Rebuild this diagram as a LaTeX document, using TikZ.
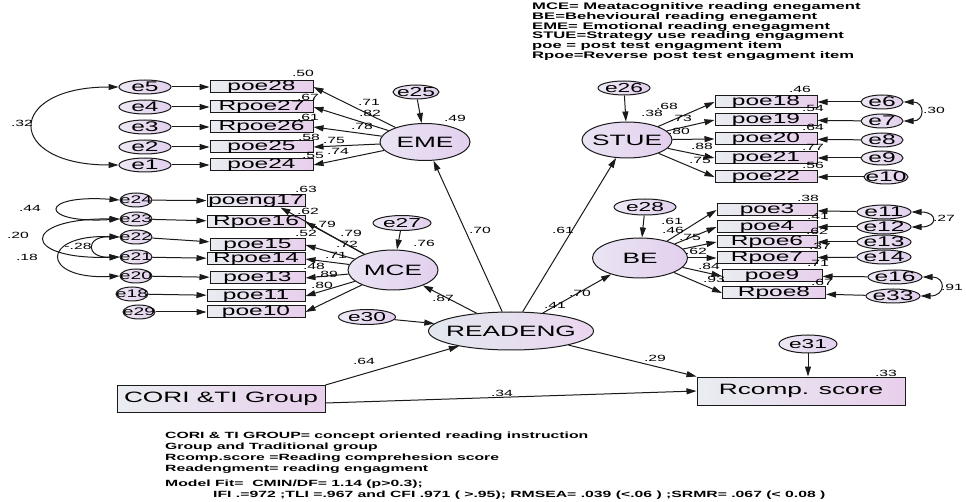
\documentclass[tikz,border=0pt]{standalone}
\usepackage{fontspec}
\setmainfont{Liberation Sans}[FakeStretch=1.75]
\usetikzlibrary{arrows.meta,shapes.geometric}
\definecolor{boxL}{HTML}{E9EDF1}
\definecolor{boxR}{HTML}{E8CFEC}
\definecolor{errL}{HTML}{EEE8F4}
\definecolor{errR}{HTML}{E2D0EE}
\definecolor{latL}{HTML}{EAE4F3}
\definecolor{latR}{HTML}{E2D0EE}
\definecolor{rdL}{HTML}{E2E8EE}
\definecolor{rdR}{HTML}{EAD6EF}
\definecolor{lineC}{HTML}{1A1A1A}
\newcommand\cz[1]{\makebox[0pt][c]{#1}}
\newcommand\numlab[3]{\node[num] (#1) at (#2) {#3};}
\begin{document}
\begin{tikzpicture}[x=1pt,y=-1pt,
 obs/.style={rectangle, draw=lineC, line width=1pt, left color=boxL, right color=boxR,
   minimum width=103pt, minimum height=12pt, inner sep=0pt, text height=9pt, text depth=2.5pt,
   font=\fontsize{14}{14}\selectfont},
 err/.style={ellipse, draw=lineC, line width=1pt, left color=errL, right color=errR,
   minimum width=52pt, minimum height=14pt, inner sep=0pt, text height=9.5pt, text depth=0pt,
   font=\fontsize{14}{14}\selectfont},
 errs/.style={err, minimum width=32pt, text height=7.8pt, font=\fontsize{11}{11}\selectfont},
 errb/.style={err, text height=9pt, font=\fontsize{13}{13}\selectfont},
 lat/.style={ellipse, draw=lineC, line width=1pt, left color=latL, right color=latR,
   minimum width=90pt, minimum height=37pt, inner sep=0pt, text height=10.7pt, text depth=0pt,
   font=\fontsize{15}{15}\selectfont},
 big/.style={rectangle, draw=lineC, line width=1pt, left color=boxL, right color=boxR,
   minimum width=208pt, minimum height=27pt, inner sep=0pt, text height=10.7pt, text depth=3pt,
   font=\fontsize{15}{15}\selectfont},
 num/.style={inner sep=0pt, font=\fontsize{9}{9}\selectfont},
 ar/.style={draw=lineC, line width=1pt, -{Triangle[length=10pt,width=6pt]}},
 cov/.style={draw=lineC, line width=1pt, {Triangle[length=10pt,width=6pt]}-{Triangle[length=10pt,width=6pt]}},
 txt/.style={anchor=north west, align=left, inner sep=0pt}
]
\useasboundingbox (0,0) rectangle (966,502);
\fill[white] (0,0) rectangle (966,502);

% legend
\node[txt, font=\fontsize{9.5}{9.8}\selectfont\bfseries] (legend) at (532,2.5)
 {MCE= Meatacognitive reading enegament\\BE=Behevioural reading enegament\\EME= Emotional reading enegagment\\STUE=Strategy use reading engagment\\poe = post test engagment item\\Rpoe=Reverse post test engagment item};

% ---------- EME cluster
\node[err] (e5) at (145,87) {\cz{e5}};
\node[err] (e4) at (145,107) {\cz{e4}};
\node[err] (e3) at (145,127) {\cz{e3}};
\node[err] (e2) at (145,147) {\cz{e2}};
\node[err] (e1) at (145,165) {\cz{e1}};
\node[obs] (poe28) at (261.5,87) {\cz{poe28}};
\node[obs] (Rpoe27) at (261.5,107) {\cz{Rpoe27}};
\node[obs] (Rpoe26) at (261.5,127) {\cz{Rpoe26}};
\node[obs] (poe25) at (261.5,147) {\cz{poe25}};
\node[obs] (poe24) at (261.5,165) {\cz{poe24}};
\node[lat] (EME) at (425,142) {\cz{EME}};
\node[errb, minimum width=46pt] (e25) at (416,92) {\cz{e25}};
\foreach \e/\b in {e5/poe28,e4/Rpoe27,e3/Rpoe26,e2/poe25,e1/poe24} \draw[ar] (\e) -- (\b);
\foreach \b in {poe28,Rpoe27,Rpoe26,poe25,poe24} \draw[ar] (EME) -- (\b.east);
\draw[ar] (e25) -- (EME);
\draw[cov] (e5.west) .. controls (5,87) and (5,165) .. (e1.west);
\numlab{a1}{22,123}{.32}
\numlab{a2}{303,73}{.50}
\numlab{a3}{308,97}{.67}
\numlab{a4}{308,117}{.61}
\numlab{a5}{309,137}{.58}
\numlab{a6}{313,155}{.55}
\numlab{a7}{369,102}{.71}
\numlab{a8}{370,113}{.82}
\numlab{a9}{362,126}{.78}
\numlab{a10}{334,140}{.75}
\numlab{a11}{338,151}{.74}
\numlab{a12}{455,118}{.49}

% ---------- MCE cluster
\node[errs] (e24) at (136,200) {\cz{e24}};
\node[errs] (e23) at (136,219) {\cz{e23}};
\node[errs] (e22) at (136,237) {\cz{e22}};
\node[errs] (e21) at (136,257) {\cz{e21}};
\node[errs] (e20) at (136,276) {\cz{e20}};
\node[errs] (e18) at (132,294) {\cz{e18}};
\node[errs] (e29) at (139,312) {\cz{e29}};
\node[obs, minimum width=98pt] (poeng17) at (256,201) {\cz{poeng17}};
\node[obs, minimum width=98pt] (Rpoe16) at (256,222) {\cz{Rpoe16}};
\node[obs, minimum width=95pt] (poe15) at (257.5,245) {\cz{poe15}};
\node[obs, minimum width=98pt] (Rpoe14) at (256,259) {\cz{Rpoe14}};
\node[obs, minimum width=95pt] (poe13) at (257.5,278) {\cz{poe13}};
\node[obs, minimum width=98pt] (poe11) at (256,296) {\cz{poe11}};
\node[obs, minimum width=98pt] (poe10) at (256,312) {\cz{poe10}};
\node[lat, minimum height=40pt] (MCE) at (393,270) {\cz{MCE}};
\node[errb, minimum width=58pt, minimum height=15pt] (e27) at (402,223) {\cz{e27}};
\foreach \e/\b in {e24/poeng17,e23/Rpoe16,e22/poe15,e21/Rpoe14,e20/poe13,e18/poe11,e29/poe10} \draw[ar] (\e) -- (\b);
\draw[ar] (MCE) -- ([xshift=-25pt]poeng17.south east);
\foreach \b in {Rpoe16,poe15,Rpoe14,poe13,poe11,poe10} \draw[ar] (MCE) -- (\b.east);
\draw[ar] (e27) -- (MCE);
\draw[cov] (e24.west) .. controls (38,194) and (38,224) .. (e23.west);
\draw[cov] (e23.west) .. controls (20,218) and (20,260) .. (e21.west);
\draw[cov] (e22.west) .. controls (40,234) and (40,280) .. (e20.west);
\draw[cov] (e22.west) .. controls (85,236) and (85,258) .. (e21.west);
\numlab{b1}{30,208}{.44}
\numlab{b2}{18,235}{.20}
\numlab{b3}{78,246}{-.28}
\numlab{b4}{27,257}{.18}
\numlab{b5}{306,189}{.63}
\numlab{b6}{308,211.5}{.62}
\numlab{b7}{325,224}{.79}
\numlab{b8}{306,233}{.52}
\numlab{b9}{351,233}{.79}
\numlab{b10}{347,244}{.72}
\numlab{b11}{336,255}{.71}
\numlab{b12}{314,266}{.48}
\numlab{b13}{327,274}{.89}
\numlab{b14}{322,285}{.80}
\numlab{b15}{424,243}{.76}
\numlab{b16}{443,298}{.87}

% ---------- STUE cluster
\node[lat, minimum height=36pt] (STUE) at (627,140) {\cz{STUE}};
\node[errb, minimum width=52pt] (e26) at (624,88) {\cz{e26}};
\node[obs, minimum width=102pt] (poe18) at (766,102) {\cz{poe18}};
\node[obs, minimum width=102pt] (poe19) at (766,120) {\cz{poe19}};
\node[obs, minimum width=102pt] (poe20) at (766,139) {\cz{poe20}};
\node[obs, minimum width=102pt] (poe21) at (766,158) {\cz{poe21}};
\node[obs, minimum width=102pt] (poe22) at (766,177) {\cz{poe22}};
\node[err, minimum width=42pt] (e6) at (882,102) {\cz{e6}};
\node[err, minimum width=42pt] (e7) at (882,121) {\cz{e7}};
\node[err, minimum width=42pt] (e8) at (882,140) {\cz{e8}};
\node[err, minimum width=42pt] (e9) at (882,158) {\cz{e9}};
\node[err, minimum width=44pt] (e10) at (886,177) {\cz{e10}};
\foreach \e/\b in {e6/poe18,e7/poe19,e8/poe20,e9/poe21,e10/poe22} \draw[ar] (\e) -- (\b);
\foreach \b in {poe18,poe19,poe20,poe21,poe22} \draw[ar] (STUE) -- (\b.west);
\draw[ar] (e26) -- (STUE);
\draw[cov] (e6.east) .. controls (925,102) and (925,121) .. (e7.east);
\numlab{c1}{800,89}{.46}
\numlab{c2}{813,108}{.54}
\numlab{c3}{813,127}{.64}
\numlab{c4}{813,147}{.77}
\numlab{c5}{813,165}{.56}
\numlab{c6}{652,113}{.38}
\numlab{c7}{667,106}{.68}
\numlab{c8}{681,118}{.73}
\numlab{c9}{679,131}{.80}
\numlab{c10}{702,146}{.88}
\numlab{c11}{700,160}{.75}
\numlab{c12}{934,110}{.30}

% ---------- BE cluster
\node[lat, minimum width=95pt, minimum height=40pt] (BE) at (640,258) {\cz{BE}};
\node[errb, minimum width=62pt, minimum height=16pt] (e28) at (645,207) {\cz{e28}};
\node[obs, minimum width=100pt] (poe3) at (767,210) {\cz{poe3}};
\node[obs, minimum width=100pt] (poe4) at (767,227) {\cz{poe4}};
\node[obs, minimum width=100pt] (Rpoe6) at (767,242) {\cz{Rpoe6}};
\node[obs, minimum width=100pt] (Rpoe7) at (767,258) {\cz{Rpoe7}};
\node[obs, minimum width=100pt] (poe9) at (772,276) {\cz{poe9}};
\node[obs, minimum width=103pt] (Rpoe8) at (774,293) {\cz{Rpoe8}};
\node[err, minimum width=54pt] (e11) at (884,212) {\cz{e11}};
\node[err, minimum width=54pt] (e12) at (884,227) {\cz{e12}};
\node[err, minimum width=54pt] (e13) at (884,242) {\cz{e13}};
\node[err, minimum width=54pt] (e14) at (884,257) {\cz{e14}};
\node[err, minimum width=54pt] (e16) at (895,277) {\cz{e16}};
\node[err, minimum width=54pt] (e33) at (893,296) {\cz{e33}};
\foreach \e/\b in {e11/poe3,e12/poe4,e13/Rpoe6,e14/Rpoe7,e16/poe9,e33/Rpoe8} \draw[ar] (\e) -- (\b);
\foreach \b in {poe3,poe4,Rpoe6,Rpoe7,poe9,Rpoe8} \draw[ar] (BE) -- (\b.west);
\draw[ar] (e28) -- (BE);
\draw[cov] (e11.east) .. controls (938,212) and (938,227) .. (e12.east);
\draw[cov] (e16.east) .. controls (946,277) and (946,296) .. (e33.east);
\numlab{d1}{808,198}{.38}
\numlab{d2}{818,216}{.41}
\numlab{d3}{817,231}{.62}
\numlab{d4}{820,246}{.37}
\numlab{d5}{818,263}{.71}
\numlab{d6}{822,282}{.67}
\numlab{d7}{672,221}{.61}
\numlab{d8}{673,230}{.46}
\numlab{d9}{690,237}{.75}
\numlab{d10}{696,251}{.62}
\numlab{d11}{709,266}{.84}
\numlab{d12}{714,279}{.93}
\numlab{d13}{944,218}{.27}
\numlab{d14}{952,287}{.91}

% ---------- structural part
\node[lat, minimum width=165pt, minimum height=38pt, left color=rdL, right color=rdR] (READENG) at (511,331) {\cz{READENG}};
\node[errb, minimum width=57pt, minimum height=15pt] (e30) at (367,317) {\cz{e30}};
\node[big] (CORI) at (221,399) {\cz{CORI \&TI Group}};
\node[big, minimum height=28pt] (Rcomp) at (801,391) {\cz{Rcomp. score}};
\node[errb, minimum width=58pt, minimum height=18pt] (e31) at (808,344) {\cz{e31}};
\draw[ar] (READENG) -- (EME);
\draw[ar] (READENG) -- (STUE);
\draw[ar] (READENG) -- (MCE);
\draw[ar] (READENG) -- (BE);
\draw[ar] (e30) -- (READENG);
\draw[ar] (CORI.north east) -- (READENG);
\draw[ar] (READENG) -- (Rcomp.north west);
\draw[ar] ([yshift=-4pt]CORI.east) -- (Rcomp.west);
\draw[ar] (e31) -- (e31 |- Rcomp.north);
\numlab{f1}{480,230}{.70}
\numlab{f2}{563,230}{.61}
\numlab{f3}{580,293}{.70}
\numlab{f4}{555,305}{.41}
\numlab{f5}{364,361}{.64}
\numlab{f6}{655,358}{.29}
\numlab{f7}{502,393}{.34}
\numlab{f8}{886,373}{.33}

% bottom notes
\node[txt, font=\fontsize{9}{11}\selectfont\bfseries] (notes) at (165,432)
 {CORI \& TI GROUP= concept oriented reading instruction\\Group and Traditional group\\Rcomp.score =Reading comprehesion score\\Readengment= reading engagment};
\node[txt, font=\fontsize{9}{11}\selectfont\bfseries] (fit1) at (165,480) {Model Fit=\ \ CMIN/DF= 1.14 (p>0.3);};
\node[txt, font=\fontsize{9}{11}\selectfont\bfseries] (fit2) at (213,491) {IFI .=972 ;TLI =.967 and CFI .971 ( >.95); RMSEA= .039 (<.06 ) ;SRMR= .067 (< 0.08 )};
\end{tikzpicture}
\end{document}
